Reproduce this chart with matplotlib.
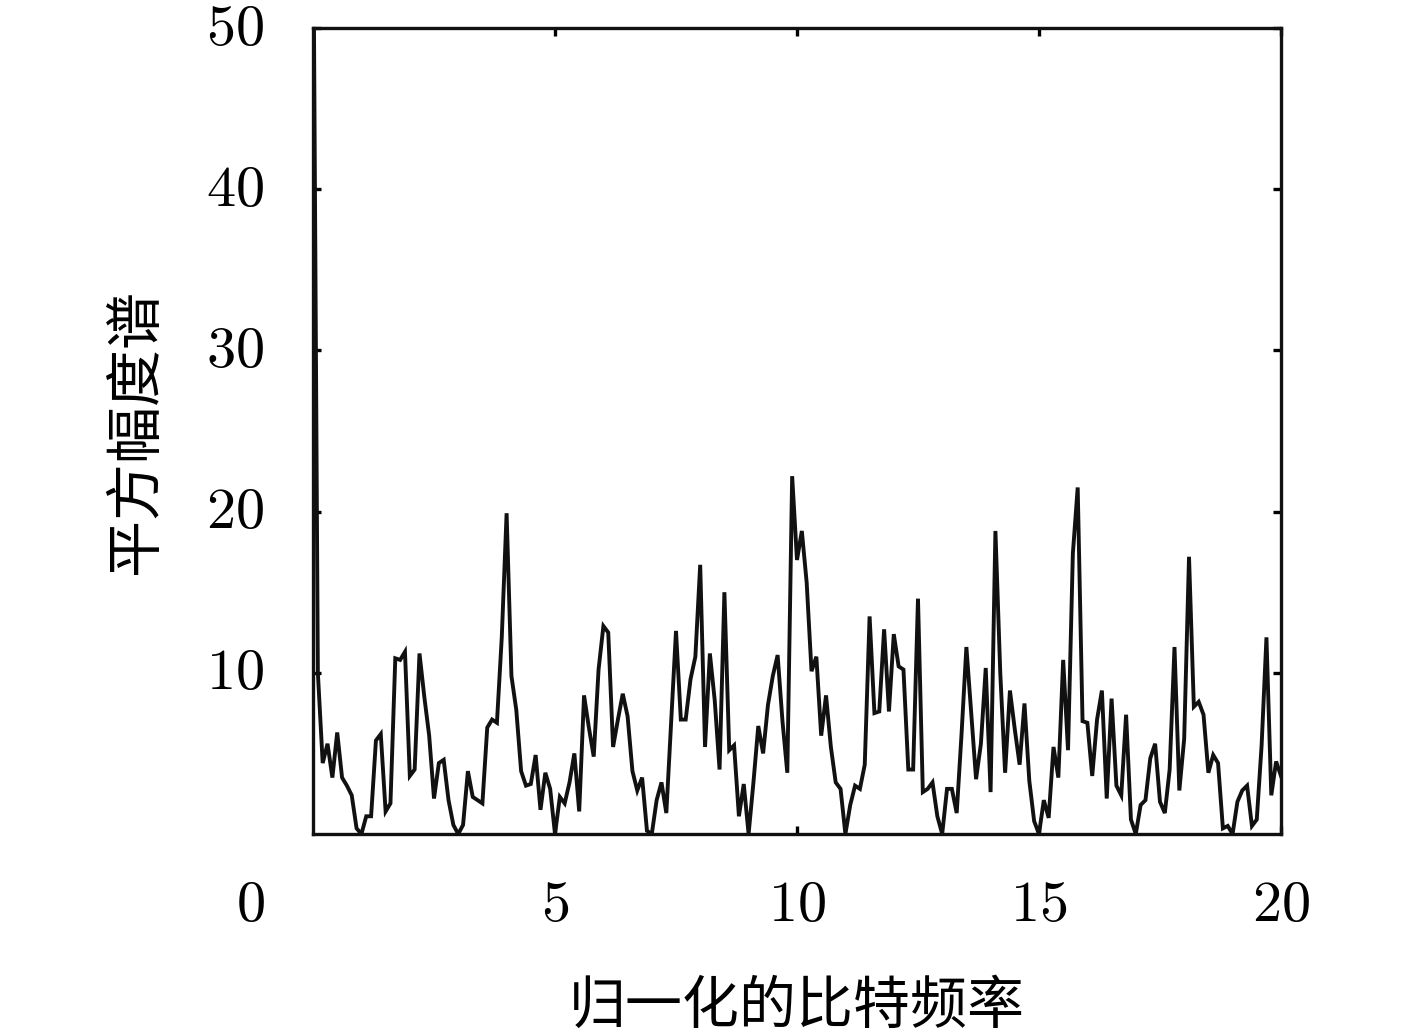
import matplotlib
matplotlib.use("Agg")
import matplotlib.pyplot as plt
import numpy as np

plt.rcParams['font.family'] = ['Noto Sans CJK SC', 'DejaVu Sans']
plt.rcParams['mathtext.fontset'] = 'cm'

# squared magnitude spectrum, sampled every 0.1 of the normalised bit frequency
spectrum = [
    60, 10.0, 4.4, 5.6, 3.5, 6.3, 3.5, 3.0, 2.4, 0.35,
    0.0, 1.1, 1.1, 5.8, 6.2, 1.4, 1.9, 10.9, 10.8, 11.3,
    3.6, 4.0, 11.2, 8.5, 6.1, 2.2, 4.4, 4.6, 2.1, 0.56,
    0.0, 0.56, 3.9, 2.3, 2.1, 1.9, 6.6, 7.1, 6.9, 12.2,
    19.9, 9.8, 7.7, 3.9, 3.0, 3.1, 4.9, 1.5, 3.8, 2.8,
    0.0, 2.3, 1.9, 3.2, 5.0, 1.4, 8.6, 6.6, 4.8, 10.2,
    12.9, 12.5, 5.4, 7.1, 8.7, 7.3, 3.9, 2.7, 3.5, 0.2,
    0.0, 2.1, 3.2, 1.3, 7.0, 12.6, 7.1, 7.1, 9.6, 11.0,
    16.7, 5.4, 11.2, 8.3, 4.0, 15.0, 5.2, 5.5, 1.1, 3.1,
    0.0, 3.2, 6.7, 5.0, 8.0, 9.8, 11.1, 7.0, 3.8, 22.2,
    17.0, 18.8, 15.6, 10.1, 11.0, 6.1, 8.6, 5.4, 3.2, 2.8,
    0.0, 1.8, 3.0, 2.8, 4.3, 13.5, 7.5, 7.6, 12.7, 7.6,
    12.4, 10.4, 10.2, 4.0, 4.0, 14.6, 2.6, 2.8, 3.2, 1.1,
    0.0, 2.8, 2.8, 1.3, 6.2, 11.6, 7.5, 3.4, 5.6, 10.3,
    2.6, 18.8, 10.0, 3.8, 8.9, 6.5, 4.3, 8.1, 3.3, 0.8,
    0.0, 2.1, 1.0, 5.4, 3.5, 10.8, 5.2, 17.4, 21.5, 7.0,
    6.9, 3.6, 7.1, 8.9, 2.2, 8.4, 3.0, 2.4, 7.4, 0.9,
    0.0, 1.8, 2.1, 4.7, 5.6, 2.0, 1.3, 4.0, 11.6, 2.7,
    5.9, 17.2, 7.9, 8.2, 7.4, 3.8, 4.9, 4.4, 0.35, 0.5,
    0.0, 2.0, 2.7, 3.0, 0.5, 0.9, 5.5, 12.2, 2.4, 4.5,
    3.6,
]
freq = np.arange(len(spectrum)) * 0.1

xticks = [5, 10, 15, 20]
yticks = [10, 20, 30, 40, 50]

fig = plt.figure(figsize=(14.17, 10.35), dpi=100)
ax = fig.add_axes([0.2209, 0.1942, 0.6831, 0.7787])

ax.plot(freq, spectrum, color='#111111', lw=2.8, solid_joinstyle='miter')

ax.set_xlim(0, 20)
ax.set_ylim(0, 50)
ax.set_xticks(xticks)
ax.set_xticklabels([f'${t}$' for t in xticks])
ax.set_yticks(yticks)
ax.set_yticklabels([f'${t}$' for t in yticks])
ax.tick_params(direction='in', length=6, width=2.4, top=True, right=True,
               labelsize=42, pad=35)
ax.tick_params(axis='x', pad=29)
for lbl in ax.get_yticklabels():
    lbl.set_va('center')
for s in ax.spines.values():
    s.set_linewidth(2.4)
    s.set_color('#111111')

# shared origin label
ax.annotate('$0$', xy=(0, 0), xytext=(-45, -51), textcoords='offset points',
            ha='center', va='center', fontsize=42)

ax.set_xlabel('归一化的比特频率', fontsize=41, labelpad=30)
ax.set_ylabel('平方幅度谱', fontsize=41, labelpad=30)

fig.savefig('out.png', dpi=100)
